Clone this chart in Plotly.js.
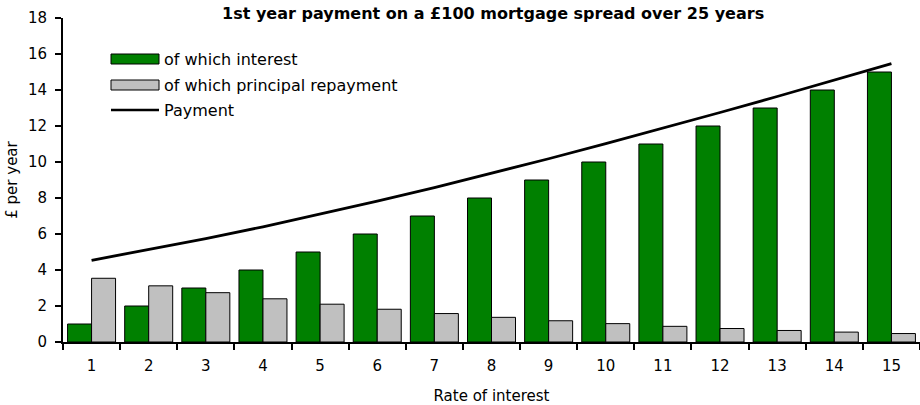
<!DOCTYPE html>
<html><head><meta charset="utf-8">
<script src="https://cdn.plot.ly/plotly-3.0.1.min.js"></script>
<style>html,body{margin:0;padding:0;background:#fff}</style>
</head><body><div id="chart" style="width:920px;height:405px"></div>
<script>
const categories = ['1','2','3','4','5','6','7','8','9','10','11','12','13','14','15'];
const interest = [1,2,3,4,5,6,7,8,9,10,11,12,13,14,15];
const principal = [3.54,3.12,2.74,2.40,2.10,1.82,1.58,1.37,1.18,1.02,0.87,0.75,0.64,0.55,0.47];
const payment = [4.54,5.12,5.74,6.40,7.10,7.82,8.58,9.37,10.18,11.02,11.87,12.75,13.64,14.55,15.47];
const yTicks = [0,2,4,6,8,10,12,14,16,18];
const seriesNames = ['of which interest','of which principal repayment','Payment'];
const colors = ['#008000','#c0c0c0','#000000'];

const F = 'DejaVu Sans, Verdana, sans-serif';
const W = 920, H = 405, M = {l:63, r:0, t:18, b:63};
const pw = W - M.l - M.r, ph = H - M.t - M.b;
const px = x => (x - M.l) / pw;
const py = y => (H - M.b - y) / ph;

const data = [
  {type:'bar', name:seriesNames[0], x:categories, y:interest, showlegend:false,
   marker:{color:colors[0], line:{color:'#000', width:1}}},
  {type:'bar', name:seriesNames[1], x:categories, y:principal, showlegend:false,
   marker:{color:colors[1], line:{color:'#000', width:1}}},
  {type:'scatter', mode:'lines', name:seriesNames[2], x:categories, y:payment, showlegend:false,
   line:{color:colors[2], width:2.8}}
];

// custom legend (wide symbols like the original)
const shapes = [
  {type:'rect', xref:'paper', yref:'paper', x0:px(111), x1:px(159), y0:py(64), y1:py(54),
   fillcolor:colors[0], line:{color:'#000', width:1}},
  {type:'rect', xref:'paper', yref:'paper', x0:px(111), x1:px(159), y0:py(90), y1:py(80),
   fillcolor:colors[1], line:{color:'#000', width:1}},
  {type:'line', xref:'paper', yref:'paper', x0:px(111), x1:px(159), y0:py(110), y1:py(110),
   line:{color:colors[2], width:2.5}}
];
const legY = [59, 85, 110];
const annotations = seriesNames.map((t,i) => ({
  text:t, xref:'paper', yref:'paper', x:px(162), y:py(legY[i]), xanchor:'left', yanchor:'middle',
  showarrow:false, font:{family:F, size:16, color:'#000'}
}));

const layout = {
  width:W, height:H, margin:M, showlegend:false,
  paper_bgcolor:'#fff', plot_bgcolor:'#fff',
  font:{family:F, size:15, color:'#000'},
  barmode:'group', bargap:0.16, bargroupgap:0,
  title:{text:'<b>1st year payment on a £100 mortgage spread over 25 years</b>',
         font:{family:F, size:16, color:'#000'}, xref:'container', yref:'container',
         x:0.536, xanchor:'center', y:0.98, yanchor:'top'},
  xaxis:{type:'category', showline:true, linecolor:'#000', linewidth:2,
         ticks:'outside', tickson:'boundaries', ticklen:6, tickwidth:2, tickcolor:'#000',
         ticklabelstandoff:9,
         showgrid:false, zeroline:false, tickfont:{family:F,size:15},
         title:{text:'Rate of interest', font:{family:F,size:15}, standoff:17}},
  yaxis:{range:[0,18], tickvals:yTicks, showline:true, linecolor:'#000', linewidth:2,
         ticks:'outside', ticklen:6, tickwidth:2, tickcolor:'#000',
         ticklabelstandoff:5,
         showgrid:false, zeroline:false, tickfont:{family:F,size:15},
         title:{text:'£ per year', font:{family:F,size:15}, standoff:7}},
  shapes:shapes, annotations:annotations
};
Plotly.newPlot('chart', data, layout, {displayModeBar:false, staticPlot:true});
</script></body></html>
